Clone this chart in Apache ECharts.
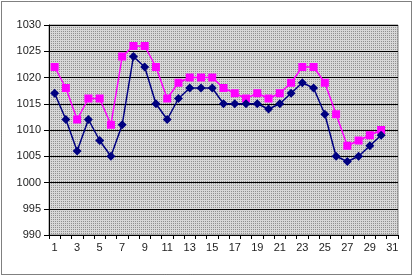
<!DOCTYPE html>
<html>
<head>
<meta charset="utf-8">
<script src="https://cdn.jsdelivr.net/npm/echarts@6/dist/echarts.min.js"></script>
<style>
  html, body { margin: 0; padding: 0; background: #fff; }
  #chart { width: 413px; height: 277px; }
</style>
</head>
<body>
<div id="chart"></div>
<script>
// 日期 1..31
var days = [];
for (var d = 1; d <= 31; d++) days.push(String(d));

// 两条气压曲线
var seriesNavy = [1017, 1012, 1006, 1012, 1008, 1005, 1011, 1024, 1022, 1015,
  1012, 1016, 1018, 1018, 1018, 1015, 1015, 1015, 1015, 1014,
  1015, 1017, 1019, 1018, 1013, 1005, 1004, 1005, 1007, 1009];
var seriesPink = [1022, 1018, 1012, 1016, 1016, 1011, 1024, 1026, 1026, 1022,
  1016, 1019, 1020, 1020, 1020, 1018, 1017, 1016, 1017, 1016,
  1017, 1019, 1022, 1022, 1019, 1013, 1007, 1008, 1009, 1010];

var yMin = 990, yMax = 1030, yStep = 5;

// 灰色点阵背景
var tile = document.createElement('canvas');
tile.width = 2; tile.height = 2;
var tc = tile.getContext('2d');
tc.fillStyle = '#d8d8d8';
tc.fillRect(0, 0, 2, 2);
tc.fillStyle = '#909090';
tc.fillRect(1, 1, 1, 1);

var myChart = echarts.init(document.getElementById('chart'));
myChart.setOption({
  animation: false,
  textStyle: { fontFamily: 'Liberation Sans, Arial, sans-serif' },
  graphic: [{
    type: 'rect',
    shape: { x: 1.5, y: 1.5, width: 410, height: 273 },
    style: { fill: null, stroke: '#000', lineWidth: 1, lineDash: [1, 1] },
    silent: true
  }],
  grid: {
    left: 49,
    right: 15,
    top: 25,
    bottom: 42,
    show: true,
    backgroundColor: { image: tile, repeat: 'repeat' },
    borderColor: '#808080',
    borderWidth: 1
  },
  xAxis: {
    type: 'category',
    data: days,
    boundaryGap: true,
    axisLine: { lineStyle: { color: '#000', width: 1 } },
    axisTick: { show: true, interval: 0, length: 4, inside: false, lineStyle: { color: '#000' } },
    axisLabel: { interval: 1, color: '#222', fontSize: 11, margin: 7 },
    splitLine: { show: false }
  },
  yAxis: {
    type: 'value',
    min: yMin,
    max: yMax,
    interval: yStep,
    axisLine: { show: true, lineStyle: { color: '#000', width: 1 } },
    axisTick: { show: true, length: 5, lineStyle: { color: '#000' } },
    axisLabel: { color: '#222', fontSize: 11, margin: 8, formatter: function (v) { return String(v); } },
    splitLine: { show: true, lineStyle: { color: '#000', width: 1 } }
  },
  series: [
    {
      name: 'pink',
      type: 'line',
      data: seriesPink,
      symbol: 'rect',
      symbolSize: 8,
      showAllSymbol: true,
      itemStyle: { color: '#ff00ff' },
      lineStyle: { color: '#ff00ff', width: 1.5 }
    },
    {
      name: 'navy',
      type: 'line',
      data: seriesNavy,
      symbol: 'diamond',
      symbolSize: 9,
      showAllSymbol: true,
      itemStyle: { color: '#000080' },
      lineStyle: { color: '#000080', width: 1.5 }
    }
  ]
});
</script>
</body>
</html>
